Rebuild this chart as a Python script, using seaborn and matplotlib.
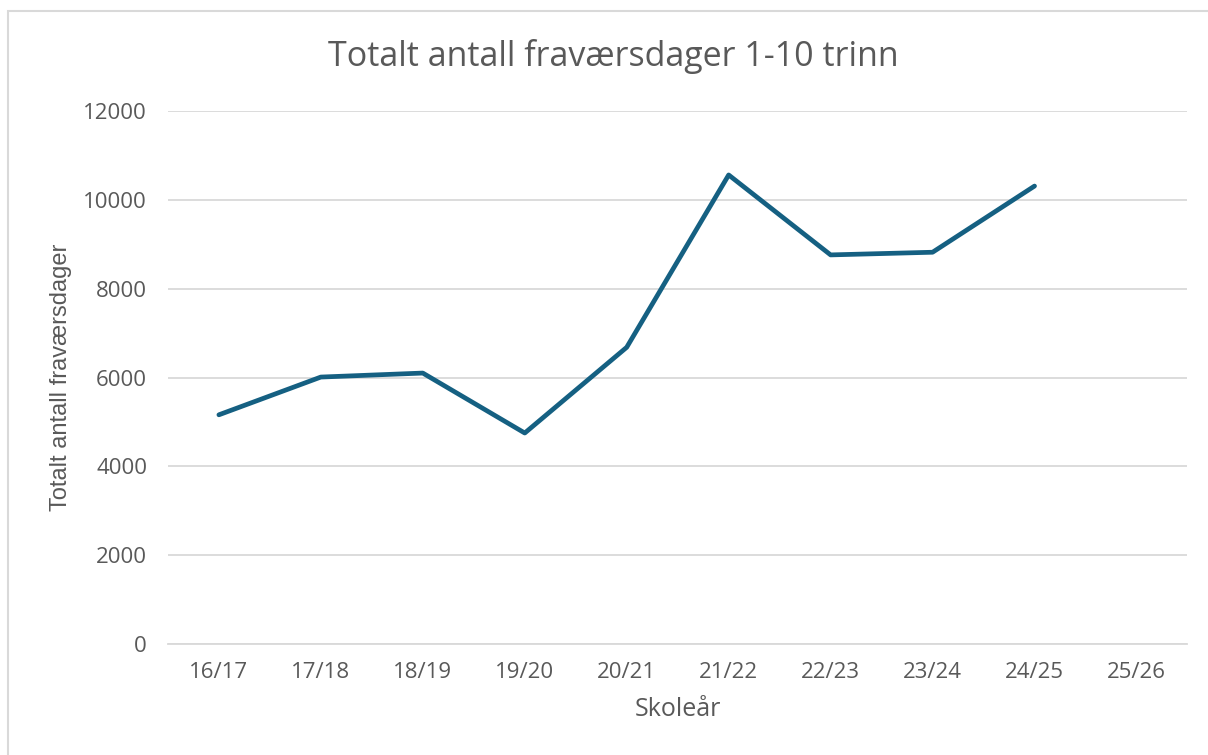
import numpy as np
import pandas as pd
import seaborn as sns
import matplotlib.pyplot as plt
from matplotlib.patches import Rectangle

years = ['16/17', '17/18', '18/19', '19/20', '20/21', '21/22', '22/23', '23/24', '24/25', '25/26']
days = [5160, 6010, 6100, 4750, 6680, 10560, 8760, 8820, 10310, np.nan]

df = pd.DataFrame({'pos': np.arange(len(years)), 'days': days})

sns.set_style('white')
plt.rcParams['font.family'] = ['Open Sans', 'DejaVu Sans']
text_col = '#595959'

fig = plt.figure(figsize=(12.08, 7.55), dpi=100)
ax = fig.add_axes([0.139, 0.147, 0.844, 0.706])

# light frame around the chart
fig.patches.append(Rectangle((0.007, -0.01), 1.2, 0.995, transform=fig.transFigure,
                             fill=False, edgecolor='#d9d9d9', linewidth=1.5))

sns.lineplot(data=df, x='pos', y='days', ax=ax, color='#156082', linewidth=3.4,
             solid_capstyle='round', solid_joinstyle='round')

ax.set_xlim(-0.5, len(years) - 0.5)
ax.set_ylim(0, 12000)
ax.set_yticks(range(0, 12001, 2000))
ax.set_xticks(df['pos'])
ax.set_xticklabels(years)
ax.grid(axis='y', color='#d9d9d9', linewidth=1.3)
ax.set_axisbelow(True)
for s in ['top', 'right', 'left']:
    ax.spines[s].set_visible(False)
ax.spines['bottom'].set_color('#d9d9d9')
ax.spines['bottom'].set_linewidth(1.3)
ax.tick_params(axis='y', length=0, labelsize=16, labelcolor=text_col, pad=15)
ax.tick_params(axis='x', length=0, labelsize=16, labelcolor=text_col, pad=13)

ax.set_xlabel('Skoleår', fontsize=18, color=text_col, labelpad=10)
ax.set_ylabel('Totalt antall fraværsdager', fontsize=17, color=text_col,
              family='Liberation Sans')
ax.yaxis.set_label_coords(-0.094, 0.5)
fig.text(0.508, 0.925, 'Totalt antall fraværsdager 1-10 trinn', fontsize=24.5,
         color=text_col, ha='center', va='center')

fig.savefig('out.png', dpi=100)
